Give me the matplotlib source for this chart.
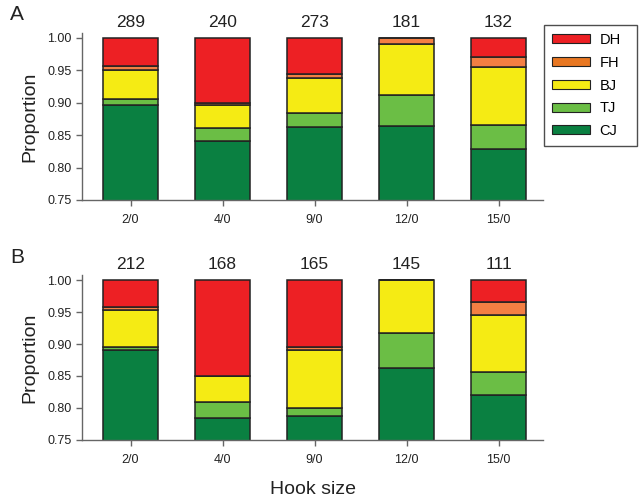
import matplotlib
matplotlib.use("Agg")
import matplotlib.pyplot as plt
import numpy as np
from matplotlib.patches import Patch

plt.rcParams['font.family'] = ['Liberation Sans', 'DejaVu Sans']

hook_sizes = ["2/0", "4/0", "9/0", "12/0", "15/0"]
categories = ["CJ", "TJ", "BJ", "FH", "DH"]
colors = {"CJ": "#0A8041", "TJ": "#6BBE45", "BJ": "#F5EB14", "FH": "#F47F43", "DH": "#ED2024"}
legend_colors = {"DH": "#ED2024", "FH": "#E87722", "BJ": "#F5EB14", "TJ": "#6BBE45", "CJ": "#0A8041"}

# Panel A proportions
A_CJ = [0.896, 0.841, 0.862, 0.864, 0.828]
A_TJ = [0.010, 0.020, 0.022, 0.0485, 0.0375]
A_BJ = [0.044, 0.035, 0.055, 0.0775, 0.0895]
A_FH = [0.0065, 0.004, 0.005, 0.010, 0.015]
A_DH = [0.0435, 0.100, 0.056, 0.0, 0.030]
A_n = [289, 240, 273, 181, 132]

# Panel B proportions
B_CJ = [0.891, 0.785, 0.7875, 0.862, 0.820]
B_TJ = [0.004, 0.024, 0.012, 0.055, 0.036]
B_BJ = [0.058, 0.041, 0.0905, 0.083, 0.090]
B_FH = [0.005, 0.0, 0.006, 0.0, 0.019]
B_DH = [0.042, 0.150, 0.104, 0.0, 0.035]
B_n = [212, 168, 165, 145, 111]

fig = plt.figure(figsize=(6.39, 5.01), dpi=100)
axA = fig.add_axes([0.128, 0.6008, 0.7214, 0.3337])
axB = fig.add_axes([0.128, 0.1218, 0.7214, 0.3295])

def draw(ax, data, counts, letter):
    x = np.arange(len(hook_sizes))
    bottom = np.zeros(len(hook_sizes))
    for cat in categories:
        vals = np.array(data[cat])
        ax.bar(x, vals, 0.6, bottom=bottom, color=colors[cat],
               edgecolor="#222222", linewidth=1.1, zorder=2)
        bottom += vals
    ax.set_ylim(0.75, 1.008)
    ax.set_xlim(-0.53, 4.48)
    ax.set_xticks(x)
    ax.set_xticklabels(hook_sizes, fontsize=9, color="#222222")
    ax.set_yticks([0.75, 0.80, 0.85, 0.90, 0.95, 1.00])
    ax.set_yticklabels(["0.75", "0.80", "0.85", "0.90", "0.95", "1.00"], fontsize=9, color="#222222")
    for s in ["top", "right"]:
        ax.spines[s].set_visible(False)
    for s in ["left", "bottom"]:
        ax.spines[s].set_color("#666666")
        ax.spines[s].set_linewidth(1.0)
    ax.tick_params(axis="both", colors="#666666", length=4, width=1.0, labelcolor="#222222")
    ax.tick_params(axis="x", pad=6)
    ax.set_ylabel("Proportion", fontsize=14, color="#222222", labelpad=6)
    for xi, n in zip(x, counts):
        ax.text(xi, 1.012, str(n), ha="center", va="bottom", fontsize=12.5, color="#222222",
                transform=ax.transData, clip_on=False)
    ax.text(-0.155, 1.05, letter, transform=ax.transAxes, fontsize=15, color="#222222",
            ha="left", va="bottom")

draw(axA, {"CJ": A_CJ, "TJ": A_TJ, "BJ": A_BJ, "FH": A_FH, "DH": A_DH}, A_n, "A")
draw(axB, {"CJ": B_CJ, "TJ": B_TJ, "BJ": B_BJ, "FH": B_FH, "DH": B_DH}, B_n, "B")

fig.text(313 / 639, 1 - 489 / 501, "Hook size", ha="center", va="center", fontsize=14, color="#222222")

handles = [Patch(facecolor=legend_colors[c], edgecolor="#222222", linewidth=0.8, label=c)
           for c in ["DH", "FH", "BJ", "TJ", "CJ"]]
leg_h = 119 / 501
leg = fig.legend(handles=handles, loc="upper left",
                 bbox_to_anchor=(544 / 639, 1 - 25 / 501 - leg_h, 93 / 639, leg_h),
                 mode="expand", frameon=True, fancybox=False, edgecolor="#222222", fontsize=10.5,
                 handlelength=2.6, handleheight=0.55, labelspacing=0.6, borderpad=0.55,
                 handletextpad=0.65, borderaxespad=0)
leg.get_frame().set_linewidth(1.0)

fig.savefig("out.png", dpi=100)
